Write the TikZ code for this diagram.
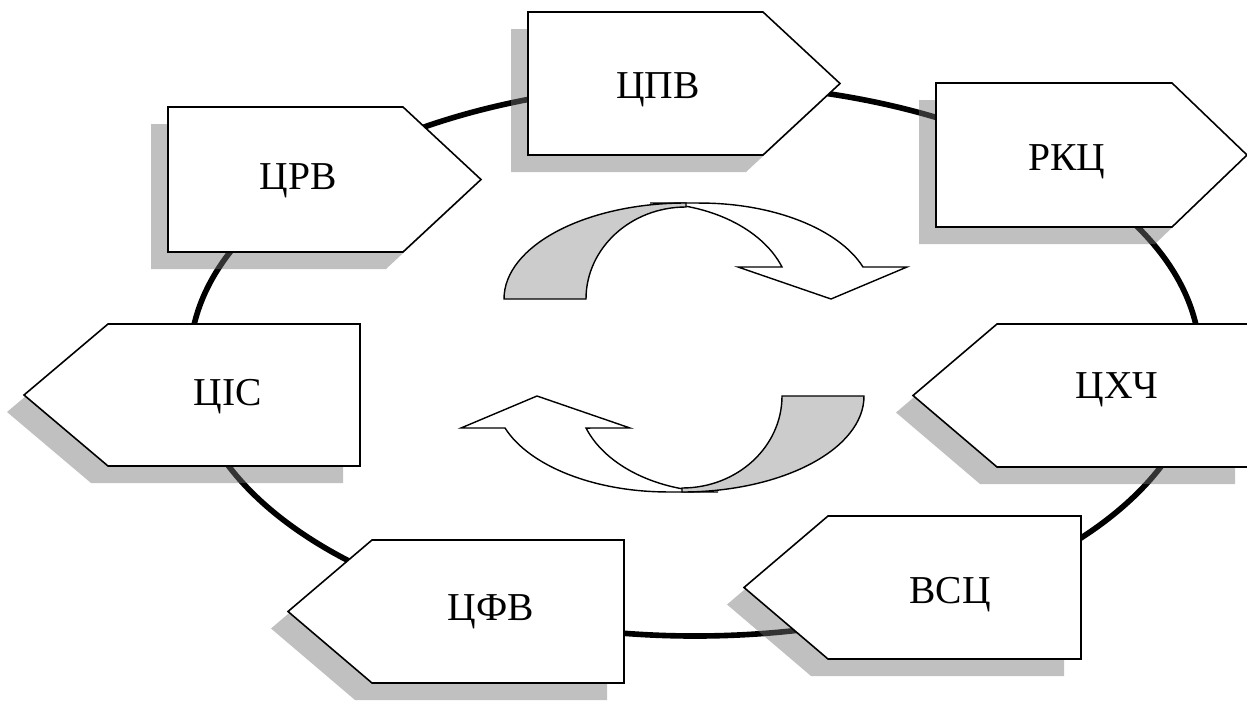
\documentclass[tikz,border=0pt]{standalone}
\usepackage{fontspec}
\setmainfont{Liberation Serif}
\usepackage{xcolor}
\usetikzlibrary{calc}
\definecolor{shadowgray}{HTML}{737373}
\definecolor{turngray}{HTML}{CCCCCC}

\begin{document}
\begin{tikzpicture}[
    x=0.02cm, y=-0.02cm,
    orbit/.style={line width=3.2pt, color=black},
    tag/.style={draw=black, fill=white, line width=0.9pt,
        preaction={fill=shadowgray, opacity=0.45, transform canvas={shift={(-17,17)}}}},
    tagtext/.style={anchor=base, inner sep=0pt, font=\fontsize{22.5}{26}\selectfont},
    turnfront/.style={draw=black, fill=white, line width=0.8pt},
    turnback/.style={draw=black, fill=turngray, line width=0.8pt}
]
    \useasboundingbox (0,0) rectangle (1247,700);
    \clip (0,0) rectangle (1247,700);

    % Cycle ring
    \draw[orbit] (695,360) ellipse [x radius=505, y radius=276];

    % Right-pointing tags
    \draw[tag] (528,12) -- (763,12) -- (840,83.5) -- (763,155) -- (528,155) -- cycle;
    \draw[tag] (168,107) -- (403,107) -- (481,179.5) -- (403,252) -- (168,252) -- cycle;
    \draw[tag] (936,83) -- (1172,83) -- (1247,155) -- (1172,227) -- (936,227) -- cycle;

    % Left-pointing tags
    \draw[tag] (24,395) -- (108,324) -- (360,324) -- (360,466) -- (108,466) -- cycle;
    \draw[tag] (913,395.5) -- (997,324) -- (1252,324) -- (1252,467) -- (997,467) -- cycle;
    \draw[tag] (288,611.5) -- (372,540) -- (624,540) -- (624,683) -- (372,683) -- cycle;
    \draw[tag] (744,587.5) -- (828,516) -- (1081,516) -- (1081,659) -- (828,659) -- cycle;

    % Labels
    \node[tagtext] (cpv)  at (658,98)  {ЦПВ};
    \node[tagtext] (crv)  at (298,189) {ЦРВ};
    \node[tagtext] (rkc)  at (1067,170) {РКЦ};
    \node[tagtext] (cis)  at (228,405) {ЦІС};
    \node[tagtext] (chch) at (1117,398) {ЦХЧ};
    \node[tagtext] (cfv)  at (491,620) {ЦФВ};
    \node[tagtext] (vsc)  at (950,603) {ВСЦ};

    % Turning arrows in the middle
    \draw[turnfront] (650,203) arc[start angle=270, end angle=340.5, x radius=140, y radius=96]
        -- (738,267) -- (831,299) -- (907,267) -- (863,267)
        arc[start angle=340.5, end angle=270, x radius=173, y radius=96] -- cycle;
    \draw[turnback] (504,299) arc[start angle=180, end angle=270, x radius=182, y radius=96]
        -- (686,207) arc[start angle=270, end angle=180, x radius=100, y radius=92] -- cycle;

    \begin{scope}[rotate around={180:(684,347.5)}]
        \draw[turnfront] (650,203) arc[start angle=270, end angle=340.5, x radius=140, y radius=96]
            -- (738,267) -- (831,299) -- (907,267) -- (863,267)
            arc[start angle=340.5, end angle=270, x radius=173, y radius=96] -- cycle;
        \draw[turnback] (504,299) arc[start angle=180, end angle=270, x radius=182, y radius=96]
            -- (686,207) arc[start angle=270, end angle=180, x radius=100, y radius=92] -- cycle;
    \end{scope}
\end{tikzpicture}
\end{document}
